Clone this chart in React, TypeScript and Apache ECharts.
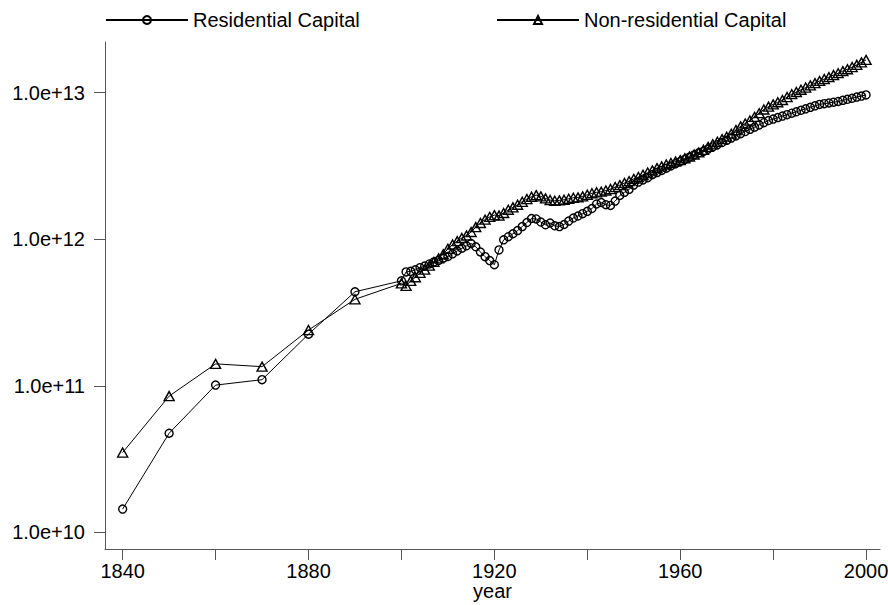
import React, { useEffect, useRef } from "react";
import * as echarts from "echarts";

// Benchmark years before 1900 (decadal estimates)
const decadeYears = [1840, 1850, 1860, 1870, 1880, 1890];
// Annual estimates run from 1900 through 2000
const annualStart = 1900;

// Capital stock, billions
const residentialDecadal = [14.4, 47.4, 101, 110, 225, 438];
const residentialAnnual = [
  520, 598, 604, 618, 640, 656, 678, 700, 718, 742,
  762, 795, 832, 868, 902, 935, 888, 818, 760, 715,
  670, 845, 990, 1040, 1090, 1145, 1220, 1300, 1385, 1375,
  1310, 1255, 1290, 1235, 1220, 1260, 1330, 1395, 1440, 1495,
  1550, 1620, 1740, 1780, 1720, 1700, 1820, 1990, 2090, 2190,
  2340, 2455, 2540, 2630, 2755, 2850, 2950, 3055, 3160, 3275,
  3390, 3510, 3630, 3760, 3890, 3980, 4120, 4265, 4415, 4570,
  4730, 4900, 5070, 5250, 5430, 5620, 5820, 6025, 6240, 6455,
  6605, 6760, 6920, 7080, 7245, 7410, 7585, 7760, 7945, 8130,
  8320, 8415, 8510, 8610, 8710, 8870, 9015, 9160, 9335, 9485,
  9660,
];

const nonResidentialDecadal = [35, 85, 141, 135, 240, 389];
const nonResidentialAnnual = [
  500, 480, 520, 550, 590, 620, 660, 700, 740, 790,
  860, 920, 970, 1020, 1060, 1120, 1210, 1290, 1360, 1420,
  1460, 1450, 1510, 1590, 1650, 1720, 1800, 1880, 1950, 2000,
  1960, 1900, 1850, 1830, 1840, 1860, 1890, 1920, 1930, 1960,
  2010, 2060, 2090, 2110, 2150, 2200, 2270, 2340, 2420, 2490,
  2580, 2660, 2755, 2850, 2950, 3055, 3140, 3235, 3310, 3390,
  3465, 3565, 3665, 3785, 3910, 4075, 4265, 4445, 4625, 4820,
  5010, 5250, 5560, 5890, 6165, 6455, 6840, 7245, 7675, 8035,
  8320, 8610, 8915, 9335, 9770, 10115, 10470, 10840, 11220, 11615,
  12025, 12390, 12765, 13185, 13585, 14030, 14455, 14960, 15490, 16105,
  16750,
];

const xTickValues = [1840, 1860, 1880, 1900, 1920, 1940, 1960, 1980, 2000];
const xLabelValues = [1840, 1880, 1920, 1960, 2000];
const yTickValues = [1e10, 1e11, 1e12, 1e13];

const FONT = "'Liberation Sans', Arial, Helvetica, sans-serif";

function buildPoints(decadal: number[], annual: number[]) {
  const pts: [number, number][] = decadal.map((v, i) => [decadeYears[i], v * 1e9]);
  annual.forEach((v, i) => pts.push([annualStart + i, v * 1e9]));
  return pts;
}

function formatSci(v: number) {
  const exp = Math.round(Math.log10(v));
  return "1.0e+" + exp;
}

export default function App() {
  const ref = useRef<HTMLDivElement>(null);

  useEffect(() => {
    if (!ref.current) return;
    const chart = echarts.init(ref.current, null, { renderer: "svg" });
    const axisColor = "#555";
    const labelStyle = { color: "#000", fontSize: 20, fontFamily: FONT };
    const markerStyle = {
      color: "rgba(255,255,255,0)",
      borderColor: "#000",
      borderWidth: 1.4,
    };

    chart.setOption({
      animation: false,
      backgroundColor: "#fff",
      textStyle: { fontFamily: FONT },
      legend: [
        {
          data: ["Residential Capital"],
          left: 105,
          top: 10,
          padding: 0,
          itemWidth: 82,
          itemHeight: 10,
          textStyle: labelStyle,
        },
        {
          data: ["Non-residential Capital"],
          left: 496,
          top: 10,
          padding: 0,
          itemWidth: 82,
          itemHeight: 10,
          textStyle: labelStyle,
        },
      ],
      grid: {
        left: 105,
        right: 8,
        top: 42,
        bottom: 56,
        containLabel: false,
        outerBoundsMode: "none",
      },
      xAxis: {
        type: "value",
        min: 1836.2,
        max: 2003,
        name: "year",
        nameLocation: "middle",
        nameGap: 42,
        nameMoveOverlap: false,
        nameTextStyle: { ...labelStyle, lineHeight: 18, verticalAlign: "middle" },
        splitLine: { show: false },
        axisLine: { onZero: false, lineStyle: { color: axisColor, width: 1 } },
        axisTick: {
          customValues: xTickValues,
          length: 11,
          lineStyle: { color: axisColor, width: 1 },
        },
        axisLabel: {
          customValues: xLabelValues,
          margin: 12,
          lineHeight: 20,
          ...labelStyle,
          formatter: (v: number) => String(v),
        },
      },
      yAxis: {
        type: "log",
        logBase: 10,
        min: 7.69e9,
        max: 2.218e13,
        splitLine: { show: false },
        axisLine: { show: true, onZero: false, lineStyle: { color: axisColor, width: 1 } },
        axisTick: {
          show: true,
          customValues: yTickValues,
          length: 11,
          lineStyle: { color: axisColor, width: 1 },
        },
        axisLabel: {
          customValues: yTickValues,
          margin: 20,
          ...labelStyle,
          formatter: (v: number) => formatSci(v),
        },
      },
      series: [
        {
          name: "Residential Capital",
          type: "line",
          data: buildPoints(residentialDecadal, residentialAnnual),
          symbol: "circle",
          symbolSize: 8,
          showAllSymbol: true,
          itemStyle: markerStyle,
          lineStyle: { color: "#000", width: 1 },
        },
        {
          name: "Non-residential Capital",
          type: "line",
          data: buildPoints(nonResidentialDecadal, nonResidentialAnnual),
          symbol: "triangle",
          symbolSize: [10, 9],
          showAllSymbol: true,
          itemStyle: markerStyle,
          lineStyle: { color: "#000", width: 1 },
        },
      ],
    });

    return () => chart.dispose();
  }, []);

  return (
    <div
      ref={ref}
      style={{ position: "absolute", left: 0, top: 0, width: 888, height: 605 }}
    />
  );
}
